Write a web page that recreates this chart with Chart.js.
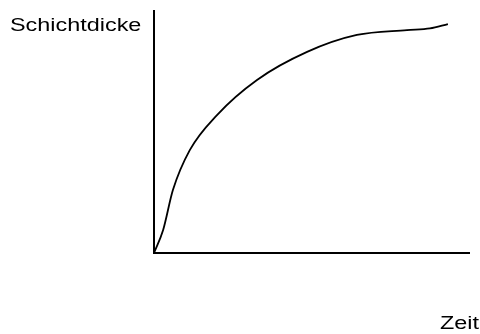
<!DOCTYPE html>
<html lang="de">
<head>
  <meta charset="UTF-8">
  <title>Schichtdicke über Zeit</title>
  <script src="https://cdn.jsdelivr.net/npm/chart.js"></script>
  <style>
    html, body { margin: 0; padding: 0; background: #fff; }
    #wrap { width: 480px; height: 334px; }
  </style>
</head>
<body>
  <div id="wrap"><canvas id="growthChart" width="480" height="334"></canvas></div>

  <script>
    // Time axis (0..100) and layer thickness (0..100)
    const timeValues = [0, 2.9, 6.0, 11.4, 20.0, 32.7, 48.6, 64.4, 80.3, 87.6, 93.3];
    const thicknessValues = [0, 9.5, 26.0, 42.6, 57.0, 71.5, 83.1, 90.1, 92.1, 92.8, 94.6];
    const yLabel = 'Schichtdicke';
    const xLabel = 'Zeit';

    // Axis labels drawn as plain text (stretched a bit, like the original)
    const axisLabels = {
      id: 'axisLabels',
      afterDraw(chart) {
        const ctx = chart.ctx;
        ctx.save();
        ctx.fillStyle = '#000';
        ctx.font = '18px "Liberation Sans", Arial, sans-serif';
        ctx.textBaseline = 'alphabetic';
        ctx.setTransform(1.3, 0, 0, 1, 10, 31);
        ctx.fillText(yLabel, 0, 0);
        ctx.setTransform(1.3, 0, 0, 1, 440, 329);
        ctx.fillText(xLabel, 0, 0);
        ctx.restore();
      }
    };

    const points = timeValues.map((t, i) => ({ x: t, y: thicknessValues[i] }));

    new Chart(document.getElementById('growthChart'), {
      type: 'scatter',
      data: {
        datasets: [{
          data: points,
          showLine: true,
          borderColor: '#000',
          borderWidth: 1.8,
          pointRadius: 0,
          cubicInterpolationMode: 'monotone',
          fill: false
        }]
      },
      options: {
        responsive: false,
        animation: false,
        layout: { padding: { left: 154, top: 11, right: 11, bottom: 81 } },
        plugins: {
          legend: { display: false },
          tooltip: { enabled: false }
        },
        scales: {
          x: {
            type: 'linear',
            min: 0,
            max: 100,
            ticks: { display: false },
            grid: { display: false },
            border: { display: true, color: '#000', width: 2 },
            afterFit: s => { s.height = 0; }
          },
          y: {
            type: 'linear',
            min: 0,
            max: 100,
            ticks: { display: false },
            grid: { display: false },
            border: { display: true, color: '#000', width: 2 },
            afterFit: s => { s.width = 0; }
          }
        }
      },
      plugins: [axisLabels]
    });
  </script>
</body>
</html>
